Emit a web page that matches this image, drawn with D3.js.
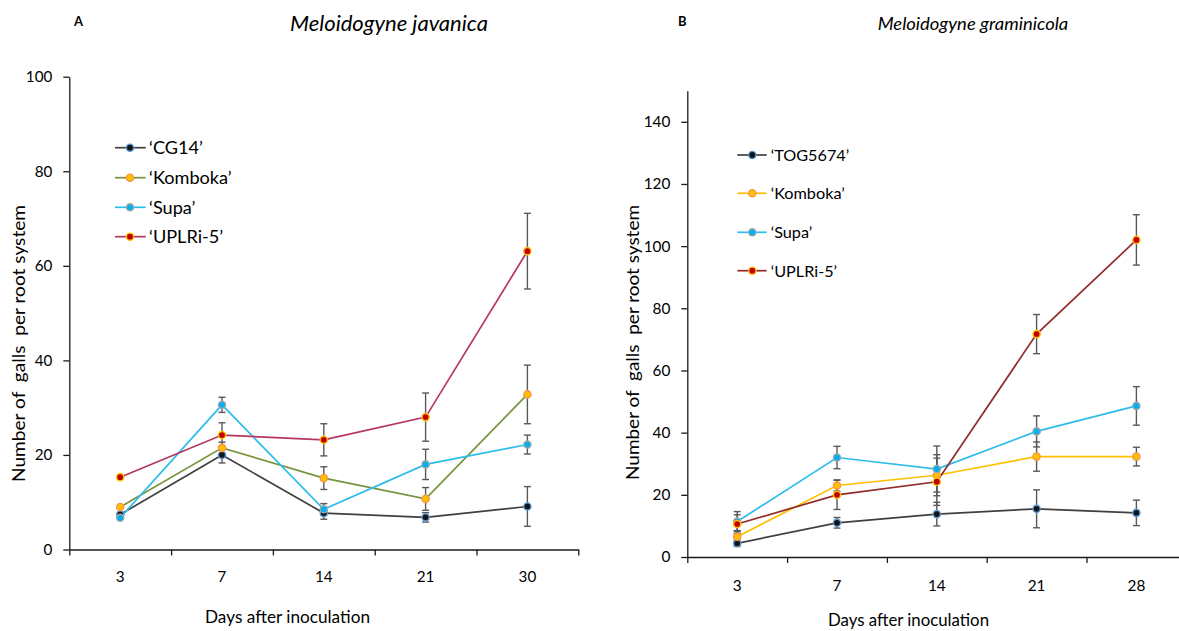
<!DOCTYPE html>
<html><head><meta charset="utf-8">
<script src="https://cdn.jsdelivr.net/npm/d3@7"></script>
<style>
html,body{margin:0;padding:0;background:#fff;}
svg{display:block;}
text{font-family:Lato,'Open Sans','Liberation Sans',Arial,sans-serif;fill:#000;}
</style></head><body>
<svg id="chart" width="1179" height="631"></svg>
<script>
// ---------- Data: panel A (Meloidogyne javanica) ----------
const daysA = ["3", "7", "14", "21", "30"];
const seriesNamesA = ["\u2018CG14\u2019", "\u2018Komboka\u2019", "\u2018Supa\u2019", "\u2018UPLRi-5\u2019"];
const cg14MeanA    = [7.4, 20.0, 7.7, 6.8, 9.1];
const cg14ErrA     = [0, 1.7, 1.3, 1.0, 4.2];
const kombokaMeanA = [9.0, 21.5, 15.1, 10.7, 32.8];
const kombokaErrA  = [0, 1.2, 2.4, 2.4, 6.2];
const supaMeanA    = [6.7, 30.6, 8.5, 18.0, 22.2];
const supaErrA     = [0, 1.6, 1.2, 3.2, 2.0];
const uplriMeanA   = [15.3, 24.2, 23.2, 28.0, 63.1];
const uplriErrA    = [0, 2.6, 3.4, 5.1, 8.0];
const yTicksA      = [0, 20, 40, 60, 80, 100];

// ---------- Data: panel B (Meloidogyne graminicola) ----------
const daysB = ["3", "7", "14", "21", "28"];
const seriesNamesB = ["\u2018TOG5674\u2019", "\u2018Komboka\u2019", "\u2018Supa\u2019", "\u2018UPLRi-5\u2019"];
const togMeanB     = [4.4, 11.0, 13.8, 15.5, 14.2];
const togErrB      = [1.0, 1.7, 3.8, 6.1, 4.1];
const kombokaMeanB = [6.5, 23.0, 26.3, 32.3, 32.3];
const kombokaErrB  = [2.0, 1.8, 6.6, 4.7, 3.0];
const supaMeanB    = [11.4, 32.0, 28.3, 40.4, 48.6];
const supaErrB     = [3.2, 3.6, 7.4, 5.0, 6.2];
const uplriMeanB   = [10.6, 20.0, 24.2, 71.7, 102.0];
const uplriErrB    = [3.0, 4.7, 7.6, 6.3, 8.1];
const yTicksB      = [0, 20, 40, 60, 80, 100, 120, 140];

// ---------- Styles ----------
const markerStyles = [
  {fill: "#141414", stroke: "#5B9BD5"},
  {fill: "#FFC000", stroke: "#F79646"},
  {fill: "#00B0F0", stroke: "#A6A6A6"},
  {fill: "#C00000", stroke: "#FFC000"}
];
const lineColorsA = ["#404040", "#77933C", "#2EBDEB", "#B5365F"];
const lineColorsB = ["#404040", "#FFC000", "#2EBDEB", "#922B2B"];

const panels = [
  {
    days: daysA, names: seriesNamesA,
    means: [cg14MeanA, kombokaMeanA, supaMeanA, uplriMeanA],
    errs: [cg14ErrA, kombokaErrA, supaErrA, uplriErrA],
    lineColors: lineColorsA, yTicks: yTicksA, yMax: 100,
    x0: 69.3, x1: 578.3, y0: 549.5, yTop: 76.7,
    tickFitText: "100", tickFitW: 26.5, xLabY: 32.5,
    legX0: 115, legX1: 145.7, legMX: 130, legTX: 149, legY: [147.7, 177.7, 207.3, 236.7],
    legFitText: "\u2018Komboka\u2019", legFitW: 82.7,
    letter: "A", letterX: 74, letterY: 26,
    title: "Meloidogyne javanica", titleX: 290, titleW: 198, titleY: 31, titleFont: 22,
    xTitleX: 205, xTitleW: 165, xTitleY: 623,
    yTitleX: 25, yTitleY0: 482, yTitleLen: 277
  },
  {
    days: daysB, names: seriesNamesB,
    means: [togMeanB, kombokaMeanB, supaMeanB, uplriMeanB],
    errs: [togErrB, kombokaErrB, supaErrB, uplriErrB],
    lineColors: lineColorsB, yTicks: yTicksB, yMax: 150,
    x0: 687.3, x1: 1186.3, y0: 557, yTop: 90.7,
    tickFitText: "140", tickFitW: 26.7, xLabY: 34,
    legX0: 737.3, legX1: 766.7, legMX: 752.3, legTX: 770.7, legY: [155, 193.3, 232.3, 270.7],
    legFitText: "\u2018TOG5674\u2019", legFitW: 78.6,
    letter: "B", letterX: 678, letterY: 26,
    title: "Meloidogyne graminicola", titleX: 877.7, titleW: 190.6, titleY: 30, titleFont: 18,
    xTitleX: 828, xTitleW: 161, xTitleY: 626,
    yTitleX: 639.3, yTitleY0: 480, yTitleLen: 275
  }
];

const svg = d3.select("#chart");
const axisColor = "#1a1a1a";

// font size that makes a given string a given width
function fitSize(str, targetW) {
  const t = svg.append("text").attr("font-size", 20).text(str);
  const w = t.node().getComputedTextLength();
  t.remove();
  return w > 0 ? 20 * targetW / w : 18;
}

function drawPanel(p) {
  const g = svg.append("g");
  const x = d3.scaleBand().domain(p.days).range([p.x0, p.x1]).padding(0);
  const y = d3.scaleLinear().domain([0, p.yMax]).range([p.y0, p.yTop]);
  const cx = d => x(d) + x.bandwidth() / 2;
  const tickFont = fitSize(p.tickFitText, p.tickFitW);
  const legFont = fitSize(p.legFitText, p.legFitW);

  // Y axis
  g.append("g").attr("transform", `translate(${p.x0},0)`)
    .call(d3.axisLeft(y).tickValues(p.yTicks).tickSize(6).tickSizeOuter(0).tickPadding(11))
    .call(s => {
      s.select(".domain").attr("stroke", axisColor).attr("stroke-width", 1.3);
      s.selectAll(".tick line").attr("stroke", axisColor).attr("stroke-width", 1.3);
      s.selectAll("text").attr("font-size", tickFont);
    });

  // X axis: line and boundary ticks
  const xi = d3.scaleLinear().domain([0, p.days.length]).range([p.x0, p.x1]);
  g.append("g").attr("transform", `translate(0,${p.y0})`)
    .call(d3.axisBottom(xi).ticks(p.days.length).tickSize(6).tickSizeOuter(0).tickFormat(""))
    .call(s => {
      s.select(".domain").attr("stroke", axisColor).attr("stroke-width", 1.3);
      s.selectAll(".tick line").attr("stroke", axisColor).attr("stroke-width", 1.3);
    });
  // X axis category labels
  g.append("g").attr("transform", `translate(0,${p.y0})`)
    .call(d3.axisBottom(x).tickSize(0))
    .call(s => {
      s.select(".domain").remove();
      s.selectAll("text").attr("font-size", tickFont).attr("y", p.xLabY).attr("dy", null);
    });

  const series = p.names.map((name, i) => ({
    name, i,
    pts: p.days.map((d, j) => ({day: d, v: p.means[i][j], e: p.errs[i][j]}))
  }));

  // error bars
  const eb = g.append("g").attr("stroke", "#595959").attr("stroke-width", 1.4).attr("fill", "none");
  series.forEach(s => {
    s.pts.filter(d => d.e > 0).forEach(d => {
      const xx = cx(d.day), yt = y(d.v + d.e), yb = y(d.v - d.e);
      eb.append("line").attr("x1", xx).attr("x2", xx).attr("y1", yt).attr("y2", yb);
      eb.append("line").attr("x1", xx - 3.5).attr("x2", xx + 3.5).attr("y1", yt).attr("y2", yt);
      eb.append("line").attr("x1", xx - 3.5).attr("x2", xx + 3.5).attr("y1", yb).attr("y2", yb);
    });
  });

  // lines
  const line = d3.line().x(d => cx(d.day)).y(d => y(d.v));
  series.forEach(s => {
    g.append("path").datum(s.pts).attr("d", line)
      .attr("fill", "none").attr("stroke", p.lineColors[s.i]).attr("stroke-width", 1.7);
  });
  // markers
  series.forEach(s => {
    g.selectAll(null).data(s.pts).enter().append("circle")
      .attr("cx", d => cx(d.day)).attr("cy", d => y(d.v)).attr("r", 3.6)
      .attr("fill", markerStyles[s.i].fill).attr("stroke", markerStyles[s.i].stroke).attr("stroke-width", 1.4);
  });

  // legend
  series.forEach(s => {
    const ly = p.legY[s.i];
    g.append("line").attr("x1", p.legX0).attr("x2", p.legX1).attr("y1", ly).attr("y2", ly)
      .attr("stroke", p.lineColors[s.i]).attr("stroke-width", 1.7);
    g.append("circle").attr("cx", p.legMX).attr("cy", ly).attr("r", 3.6)
      .attr("fill", markerStyles[s.i].fill).attr("stroke", markerStyles[s.i].stroke).attr("stroke-width", 1.4);
    g.append("text").attr("x", p.legTX).attr("y", ly).attr("dy", "0.36em")
      .attr("font-size", legFont).text(s.name);
  });

  // panel letter
  g.append("text").attr("x", p.letterX).attr("y", p.letterY).attr("font-size", 13)
    .attr("font-weight", "bold").text(p.letter);
  // title
  g.append("text").attr("x", p.titleX).attr("y", p.titleY).attr("font-size", p.titleFont)
    .attr("font-style", "italic").attr("textLength", p.titleW).attr("lengthAdjust", "spacingAndGlyphs")
    .text(p.title);
  // x title
  g.append("text").attr("x", p.xTitleX).attr("y", p.xTitleY).attr("font-size", 17.5)
    .attr("textLength", p.xTitleW).attr("lengthAdjust", "spacingAndGlyphs")
    .text("Days after inoculation");
  // y title
  g.append("text").attr("transform", `translate(${p.yTitleX},${p.yTitleY0}) rotate(-90)`)
    .attr("font-size", 17).style("white-space", "pre")
    .attr("textLength", p.yTitleLen).attr("lengthAdjust", "spacingAndGlyphs")
    .text("Number of  galls  per root system");
}

panels.forEach(drawPanel);
</script>
</body></html>
